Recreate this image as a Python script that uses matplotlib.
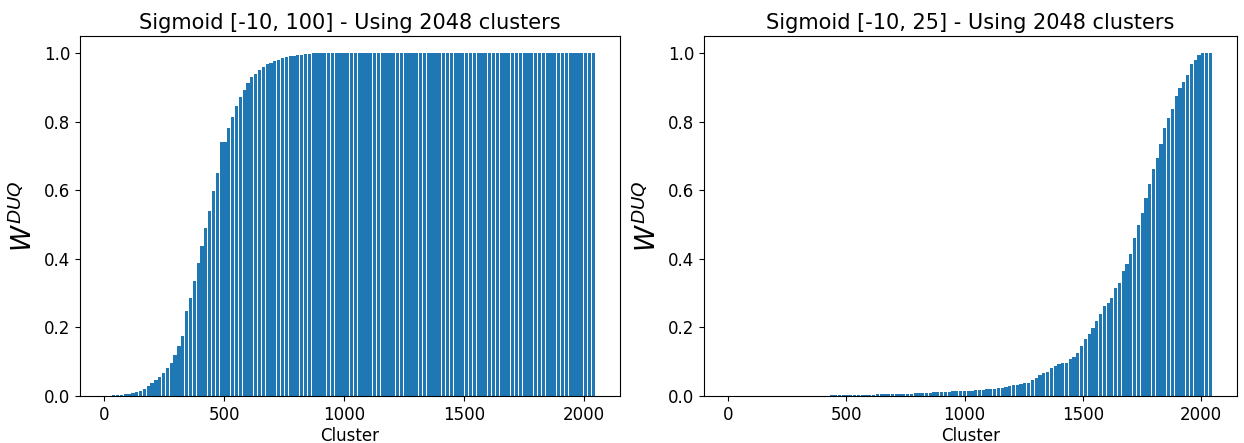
import numpy as np
import matplotlib
matplotlib.use('Agg')
from matplotlib import pyplot as plt

# Each value is the bar height for a block of 16 clusters (128 blocks = 2048 clusters)
bin_size = 16
n_clusters = 2048

w_left = [
    0.001, 0.001, 0.002, 0.003, 0.004, 0.005, 0.006, 0.008,
    0.012, 0.016, 0.020, 0.030, 0.038, 0.046, 0.055, 0.068,
    0.083, 0.097, 0.120, 0.146, 0.175, 0.248, 0.287, 0.335,
    0.387, 0.437, 0.490, 0.540, 0.598, 0.651, 0.740, 0.740,
    0.780, 0.813, 0.845, 0.872, 0.892, 0.913, 0.930, 0.940,
    0.950, 0.960, 0.967, 0.972, 0.976, 0.980, 0.985, 0.988,
    0.990, 0.992, 0.994, 0.995, 0.996, 0.998, 0.999, 1.000,
] + [1.0] * 72

w_right = [
    0.0] * 24 + [
    0.000, 0.000, 0.000, 0.002, 0.002, 0.002, 0.002, 0.003,
    0.003, 0.003, 0.003, 0.004, 0.004, 0.004, 0.004, 0.005,
    0.005, 0.005, 0.005, 0.006, 0.006, 0.006, 0.006, 0.007,
    0.007, 0.008, 0.009, 0.009, 0.010, 0.010, 0.011, 0.011,
    0.012, 0.012, 0.013, 0.014, 0.014, 0.015, 0.015, 0.016,
    0.016, 0.017, 0.018, 0.019, 0.020, 0.020, 0.021, 0.022,
    0.024, 0.026, 0.028, 0.031, 0.032, 0.034, 0.037, 0.039,
    0.046, 0.053, 0.060, 0.066, 0.071, 0.081, 0.087, 0.094,
    0.096, 0.097, 0.107, 0.114, 0.126, 0.146, 0.165, 0.180,
    0.199, 0.219, 0.238, 0.262, 0.272, 0.287, 0.316, 0.330,
    0.364, 0.384, 0.413, 0.460, 0.500, 0.534, 0.578, 0.617,
    0.661, 0.695, 0.734, 0.780, 0.810, 0.836, 0.875, 0.899,
    0.915, 0.935, 0.967, 0.981, 0.994, 1.000, 1.000, 1.000,
]

titles = ['Sigmoid [-10, 100] - Using 2048 clusters',
          'Sigmoid [-10, 25] - Using 2048 clusters']

fig = plt.figure(figsize=(12.44, 4.43), dpi=100)
ax1 = fig.add_axes([0.0643, 0.106, 0.434, 0.813])
ax2 = fig.add_axes([0.566, 0.106, 0.428, 0.813])

x_pos = np.arange(0, n_clusters, bin_size)
for ax, values, title in zip([ax1, ax2], [w_left, w_right], titles):
    ax.bar(x_pos, values, width=bin_size * 0.85, align='edge', color='#1f77b4')
    ax.set_xlim(-102, n_clusters + 102)
    ax.set_ylim(0, 1.05)
    ax.set_xticks([0, 500, 1000, 1500, 2000])
    ax.set_yticks([0.0, 0.2, 0.4, 0.6, 0.8, 1.0])
    ax.tick_params(labelsize=12)
    ax.set_title(title, fontsize=15, pad=5)
    ax.set_xlabel('Cluster', fontsize=12, labelpad=2)
    ax.set_ylabel('$W^{DUQ}$', fontsize=19)

plt.savefig('out.png', dpi=100)
